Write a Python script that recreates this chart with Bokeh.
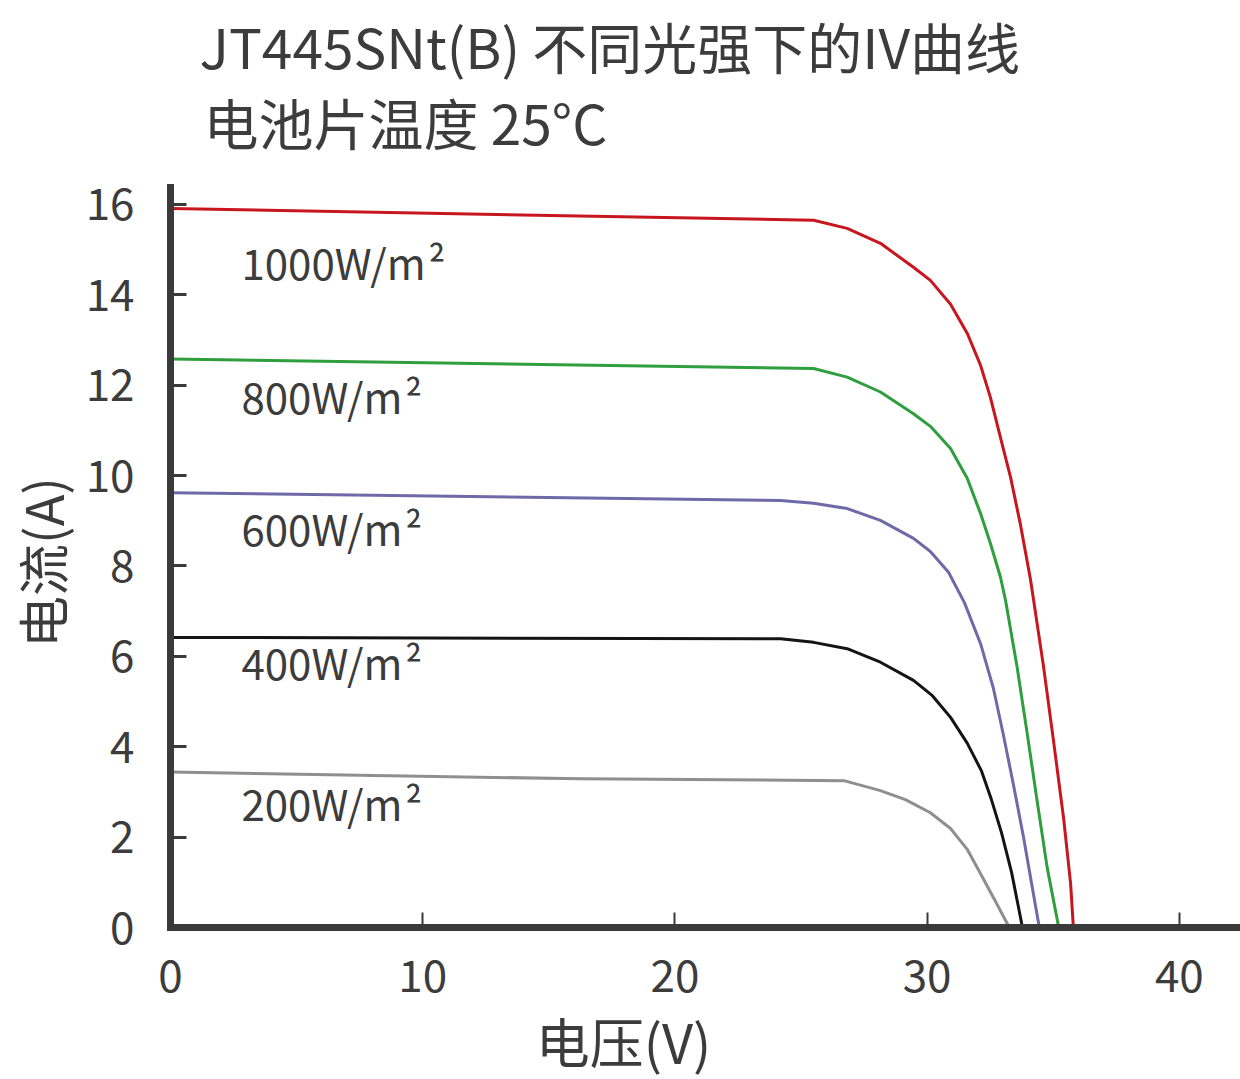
import math
from bokeh.plotting import figure
from bokeh.models import FixedTicker, ColumnDataSource
from bokeh.core.properties import value
from bokeh.embed import file_html
from bokeh.resources import INLINE

# ---------------- data ----------------
title_text = "JT445SNt(B) 不同光强下的IV曲线"
subtitle_text = "电池片温度 25°C"
x_label = "电压(V)"
y_label = "电流(A)"

irradiance_labels = ["1000W/m\u200a²", "800W/m\u200a²", "600W/m\u200a²", "400W/m\u200a²", "200W/m\u200a²"]

v_1000 = [0, 25.50, 26.83, 28.15, 29.46, 30.13, 30.93, 31.60, 32.12, 32.51, 32.91,
          33.31, 33.70, 34.10, 34.61, 35.01, 35.41, 35.69, 35.80]
i_1000 = [15.91, 15.65, 15.47, 15.14, 14.61, 14.32, 13.79, 13.14, 12.44, 11.73, 10.84,
          9.96, 8.92, 7.70, 5.80, 4.14, 2.43, 0.97, 0]

v_800 = [0, 25.50, 26.83, 28.15, 29.46, 30.13, 30.93, 31.59, 32.12, 32.51, 32.91,
         33.11, 33.57, 33.97, 34.36, 34.76, 35.22]
i_800 = [12.58, 12.37, 12.18, 11.85, 11.37, 11.09, 10.60, 9.94, 9.16, 8.50, 7.75,
         7.24, 5.76, 4.29, 2.81, 1.33, 0]

v_600 = [0, 24.19, 25.50, 26.83, 28.15, 29.46, 30.13, 30.85, 31.48, 32.12, 32.63,
         33.03, 33.43, 33.82, 34.18, 34.45]
i_600 = [9.62, 9.45, 9.39, 9.27, 9.01, 8.61, 8.32, 7.86, 7.19, 6.28, 5.29,
         4.25, 3.14, 2.01, 0.86, 0]

v_400 = [0, 24.19, 25.50, 26.83, 28.15, 29.46, 30.21, 30.93, 31.59, 32.16, 32.55,
         32.95, 33.35, 33.62, 33.78]
i_400 = [6.42, 6.39, 6.31, 6.17, 5.87, 5.47, 5.13, 4.65, 4.08, 3.46, 2.83,
         2.10, 1.22, 0.46, 0]

v_200 = [0, 16.26, 26.70, 28.15, 29.14, 30.13, 30.93, 31.59, 32.12, 32.65, 33.26]
i_200 = [3.44, 3.29, 3.25, 3.03, 2.83, 2.54, 2.19, 1.73, 1.19, 0.64, 0]

x_ticks = [0, 10, 20, 30, 40]
y_ticks = [0, 2, 4, 6, 8, 10, 12, 14, 16]

# ---------------- styling / layout ----------------
colors = ["#c8161e", "#2f9e3e", "#6e6aa8", "#141414", "#8f8f8f"]
TXT = "#3c3c3c"
AX = "#3a3a3a"
FONT = "Noto Sans CJK SC"

W, H = 1240, 1079
OX, OY = 170, 927        # canvas px of the data origin (axes corner)
XPX = 25.22              # px per volt
YPX = 45.19              # px per amp

def px2x(px):
    return (px - OX) / XPX

def py2y(py):
    return (OY - py) / YPX

# the frame covers the whole canvas; the axes sit at fixed data locations
p = figure(width=W, height=H, title=None,
           x_range=(px2x(0), px2x(W)), y_range=(py2y(H), py2y(0)),
           output_backend="svg", toolbar_location=None,
           min_border_left=0, min_border_right=0, min_border_top=0,
           min_border_bottom=0)
p.outline_line_color = None
p.grid.visible = False
p.background_fill_color = "white"
p.border_fill_color = "white"

xa, ya = p.xaxis[0], p.yaxis[0]
for ax in (xa, ya):
    ax.fixed_location = 0
    ax.axis_line_width = 7
    ax.axis_line_color = AX
    ax.axis_line_cap = "square"
    ax.major_tick_line_color = AX
    ax.major_tick_out = 0
    ax.minor_tick_line_color = None
    ax.major_label_text_font = FONT
    ax.major_label_text_font_size = "44px"
    ax.major_label_text_color = TXT

xa.bounds = (0, px2x(W))
ya.bounds = (0, py2y(186.5))
xa.ticker = FixedTicker(ticks=x_ticks)
ya.ticker = FixedTicker(ticks=y_ticks)
xa.major_tick_in = 15
xa.major_tick_line_width = 2
xa.major_label_standoff = 32
ya.major_tick_in = 16
ya.major_tick_line_width = 3
ya.major_label_standoff = 36

series = [(v_1000, i_1000), (v_800, i_800), (v_600, i_600), (v_400, i_400), (v_200, i_200)]
for (v, i), c in zip(series, colors):
    p.line(v, i, line_color=c, line_width=3, line_join="round")

# irradiance labels (anchored at the vertical middle of the text)
lab_x = [px2x(241)] * 5
lab_y = [py2y(m) for m in (261, 394.7, 527.3, 660.7, 802)]
src = ColumnDataSource(dict(x=lab_x, y=lab_y, t=irradiance_labels))
p.text(x="x", y="y", text="t", source=src, text_font=value(FONT),
       text_font_size="42px", text_color=TXT, text_baseline="middle",
       text_align="left")

# titles
p.text(x=[px2x(199)], y=[py2y(44)], text=[title_text], text_font=value(FONT),
       text_font_size="55px", text_color=TXT, text_baseline="middle",
       text_align="left")
p.text(x=[px2x(203)], y=[py2y(120)], text=[subtitle_text], text_font=value(FONT),
       text_font_size="55px", text_color=TXT, text_baseline="middle",
       text_align="left")

# axis titles
p.text(x=[px2x(623)], y=[py2y(1040)], text=[x_label], text_font=value(FONT),
       text_font_size="54px", text_color=TXT, text_baseline="middle",
       text_align="center")
p.text(x=[px2x(41)], y=[py2y(562)], text=[y_label], text_font=value(FONT),
       text_font_size="52px", text_color=TXT, text_baseline="middle",
       text_align="center", angle=math.pi / 2)

open("out.html", "w").write(file_html(p, INLINE))
